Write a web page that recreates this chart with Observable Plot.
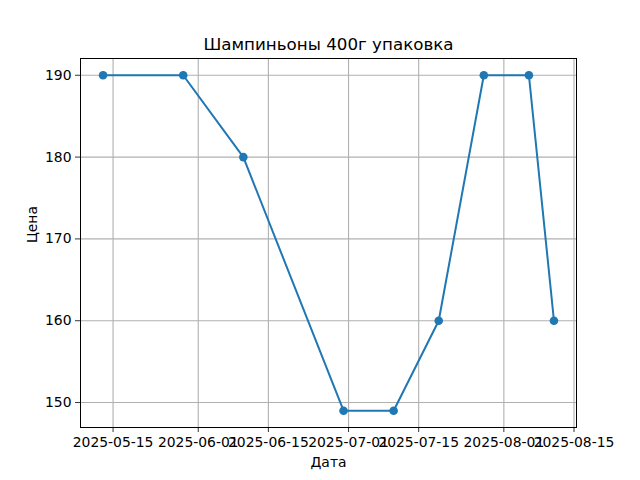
<!DOCTYPE html>
<html>
<head>
<meta charset="utf-8">
<script src="https://cdn.jsdelivr.net/npm/d3@7"></script>
<script src="https://cdn.jsdelivr.net/npm/@observablehq/plot@0.6"></script>
<style>
  html, body { margin: 0; padding: 0; background: #fff; }
</style>
</head>
<body>
<div id="chart"></div>
<script>
const titleText = "Шампиньоны 400г упаковка";
const xLabel = "Дата";
const yLabel = "Цена";
const dates = ["2025-05-13", "2025-05-29", "2025-06-10", "2025-06-30", "2025-07-10", "2025-07-19", "2025-07-28", "2025-08-06", "2025-08-11"];
const prices = [190, 190, 180, 149, 149, 160, 190, 190, 160];
const xTickLabels = ["2025-05-15", "2025-06-01", "2025-06-15", "2025-07-01", "2025-07-15", "2025-08-01", "2025-08-15"];
const yTicks = [150, 160, 170, 180, 190];

const data = dates.map((d, i) => ({date: new Date(d + "T00:00:00Z"), price: prices[i]}));
const xTicks = xTickLabels.map(d => new Date(d + "T00:00:00Z"));

const pad = (lo, hi) => { const m = (hi - lo) * 0.05; return [lo - m, hi + m]; };
const [x0, x1] = d3.extent(data, d => +d.date);
const xd = pad(x0, x1);
const yd = pad(d3.min(prices), d3.max(prices));

const blue = "#1f77b4";
const grid = "#b0b0b0";

const chart = Plot.plot({
  width: 640,
  height: 480,
  marginLeft: 80,
  marginRight: 64,
  marginTop: 58,
  marginBottom: 53,
  style: {fontFamily: "DejaVu Sans", fontSize: "13.9px", color: "black", background: "white"},
  x: {type: "utc", domain: [new Date(xd[0]), new Date(xd[1])]},
  y: {domain: yd},
  marks: [
    Plot.gridX(xTicks, {stroke: grid, strokeOpacity: 1, strokeWidth: 1.1}),
    Plot.gridY(yTicks, {stroke: grid, strokeOpacity: 1, strokeWidth: 1.1}),
    Plot.axisX(xTicks, {tickSize: 5, tickPadding: 5, tickFormat: d3.utcFormat("%Y-%m-%d"), label: null, stroke: "black", strokeWidth: 0.8, fill: "black"}),
    Plot.axisY(yTicks, {tickSize: 5, tickPadding: 4, label: null, stroke: "black", strokeWidth: 0.8, fill: "black"}),
    Plot.line(data, {x: "date", y: "price", stroke: blue, strokeWidth: 2}),
    Plot.dot(data, {x: "date", y: "price", fill: blue, r: 4.3, stroke: "none"}),
    Plot.frame({stroke: "black", strokeWidth: 1}),
    Plot.text([titleText], {text: d => d, frameAnchor: "top", dy: -20, fontSize: 16.7, fill: "black"}),
    Plot.text([xLabel], {text: d => d, frameAnchor: "bottom", dy: 39, fill: "black"}),
    Plot.text([yLabel], {text: d => d, frameAnchor: "left", dx: -48, rotate: -90, fill: "black"})
  ]
});
document.getElementById("chart").appendChild(chart);
</script>
</body>
</html>
